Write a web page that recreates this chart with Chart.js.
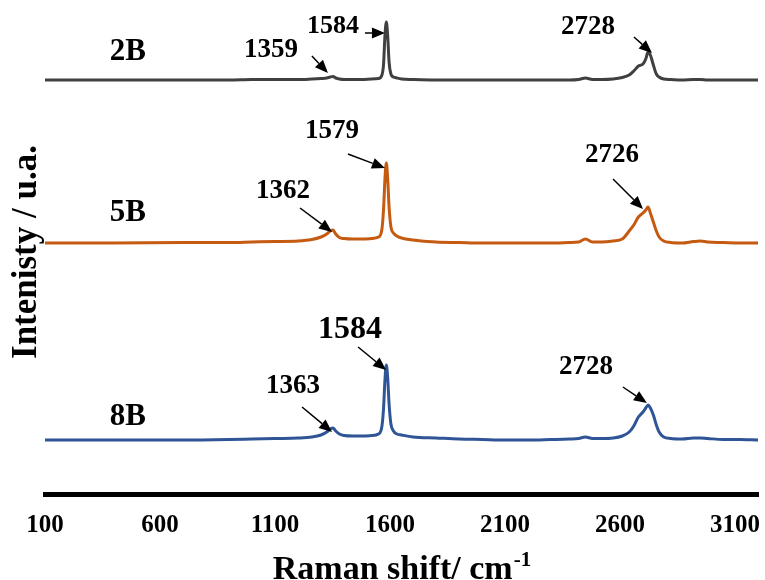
<!DOCTYPE html>
<html>
<head>
<meta charset="utf-8">
<script src="https://cdn.jsdelivr.net/npm/chart.js@4.4.0/dist/chart.umd.min.js"></script>
<style>
  html, body { margin: 0; padding: 0; background: #fff; }
  #wrap { width: 765px; height: 580px; }
</style>
</head>
<body>
<div id="wrap"><canvas id="raman"></canvas></div>
<script>
// Raman shift (cm-1) sample positions, shared by the three spectra
const shift = [
  100, 400, 700, 900, 1000, 1100, 1200,
  1260, 1300, 1325, 1340, 1352, 1364, 1380, 1400, 1440, 1480, 1520,
  1550, 1565, 1572, 1578, 1584, 1590, 1596, 1604, 1615, 1630, 1650,
  1700, 1800, 1900, 2000, 2100, 2200, 2300, 2380,
  2420, 2450, 2480, 2520, 2570,
  2610, 2640, 2660, 2680, 2700, 2712, 2722, 2732, 2745, 2758, 2770, 2790,
  2820, 2870, 2920, 2950, 2980, 3050, 3120, 3200
];

// intensities above each spectrum's own baseline (a.u.)
const int2B = [
  0, 0, 0, 0, 0.5, 0.5, 0.5,
  1, 1.5, 2, 3, 3.5, 2, 1, 0.5, 0.5, 0.5, 1,
  1.5, 5, 16, 44, 58, 44, 18, 6, 3, 2, 1,
  0.5, 0, 0, 0, 0, 0, 0, 0,
  0.5, 2, 0.5, 0.5, 1,
  2.5, 5, 9, 14, 16, 21, 28, 25, 15, 6, 3, 1,
  0.5, 0, 0.5, 0.5, 0, 0, 0, 0
];
const int5B = [
  0, 0, 0.5, 0.5, 1, 1.5, 2,
  3.5, 6, 9, 12, 13, 9, 5.5, 4.5, 4, 4, 4.5,
  6, 14, 34, 64, 80, 64, 36, 16, 10, 7, 5,
  3, 1, 0.5, 0, 0, 0, 0, 0.5,
  1, 4, 1, 1, 2,
  4, 12, 18, 26, 30, 33, 36, 30, 21, 12, 6, 2,
  0.5, 0, 1.5, 2, 1, 0.5, 0, 0
];
const int8B = [
  0, 0, 0, 0.5, 1, 1.5, 2,
  3, 5, 8, 11, 12, 9, 6, 4.5, 4, 4, 4.5,
  6, 14, 32, 60, 75, 62, 36, 16, 9, 6, 5,
  3, 2, 1, 0.5, 0, 0, 0.5, 1,
  1.5, 3, 1.5, 1.5, 2,
  4, 8, 14, 23, 28, 32, 35, 32, 25, 15, 8, 3,
  1.5, 1, 2, 2, 1.5, 0.5, 0.5, 0
];

const seriesNames = ['2B', '5B', '8B'];
const seriesData = [int2B, int5B, int8B];
const offsets = [414, 251, 54];          // vertical stacking of the spectra
const tickValues = [100, 600, 1100, 1600, 2100, 2600, 3100];

const colors = ['#404040', '#c55a11', '#2f5597'];
const serif = '"Liberation Serif", "Times New Roman", serif';

// peak call-outs: arrow tip in data units, tail / label as pixel offsets from the tip
const peakNotes = [
  { series: 0, text: '1359', at: [1330, 7],  tail: [-16, -17], label: [-57, -23], size: 27 },
  { series: 0, text: '1584', at: [1578, 47], tail: [-20, 0],   label: [-52, -7],  size: 26 },
  { series: 0, text: '2728', at: [2739, 27], tail: [-18, -16], label: [-64, -26], size: 27 },
  { series: 1, text: '1362', at: [1348, 11], tail: [-32, -24], label: [-49, -41], size: 27 },
  { series: 1, text: '1579', at: [1578, 75], tail: [-37, -14], label: [-53, -37], size: 27 },
  { series: 1, text: '2726', at: [2700, 34], tail: [-30, -30], label: [-31, -54], size: 27 },
  { series: 2, text: '1363', at: [1348, 8],  tail: [-30, -25], label: [-39, -46], size: 27 },
  { series: 2, text: '1584', at: [1583, 70], tail: [-28, -23], label: [-36, -40], size: 32 },
  { series: 2, text: '2728', at: [2717, 37], tail: [-24, -16], label: [-61, -36], size: 27 }
];
const nameLabelAt = [[460, 28], [460, 30], [460, 23]];

function drawArrow(ctx, x0, y0, x1, y1) {
  const ang = Math.atan2(y1 - y0, x1 - x0);
  const len = 13, half = 5.5;
  const bx = x1 - len * Math.cos(ang), by = y1 - len * Math.sin(ang);
  ctx.beginPath();
  ctx.moveTo(x0, y0);
  ctx.lineTo(bx, by);
  ctx.stroke();
  ctx.beginPath();
  ctx.moveTo(x1, y1);
  ctx.lineTo(bx + half * Math.sin(ang), by - half * Math.cos(ang));
  ctx.lineTo(bx - half * Math.sin(ang), by + half * Math.cos(ang));
  ctx.closePath();
  ctx.fill();
}

const annotate = {
  id: 'annotate',
  afterDraw(chart) {
    const { ctx, chartArea: area, scales: { x, y } } = chart;
    ctx.save();
    ctx.fillStyle = '#000';
    ctx.strokeStyle = '#000';
    ctx.lineWidth = 1.5;
    ctx.textAlign = 'center';
    ctx.textBaseline = 'middle';

    // series names
    ctx.font = 'bold 31px ' + serif;
    seriesNames.forEach((name, i) => {
      const [s, v] = nameLabelAt[i];
      ctx.fillText(name, x.getPixelForValue(s), y.getPixelForValue(offsets[i] + v));
    });

    // peak arrows and labels
    peakNotes.forEach(n => {
      const tx = x.getPixelForValue(n.at[0]);
      const ty = y.getPixelForValue(offsets[n.series] + n.at[1]);
      drawArrow(ctx, tx + n.tail[0], ty + n.tail[1], tx, ty);
      ctx.font = 'bold ' + n.size + 'px ' + serif;
      ctx.fillText(n.text, tx + n.label[0], ty + n.label[1]);
    });

    // x title with superscript (its bottom touches the canvas edge, as in the source)
    const main = 'Raman shift/ cm', sup = '-1';
    ctx.textAlign = 'left';
    ctx.textBaseline = 'alphabetic';
    ctx.font = 'bold 34px ' + serif;
    const w1 = ctx.measureText(main).width;
    ctx.font = 'bold 21px ' + serif;
    const w2 = ctx.measureText(sup).width;
    const x0 = (area.left + area.right) / 2 - (w1 + w2) / 2;
    const base = area.bottom + 85;
    ctx.font = 'bold 34px ' + serif;
    ctx.fillText(main, x0, base);
    ctx.font = 'bold 21px ' + serif;
    ctx.fillText(sup, x0 + w1 + 1, base - 13);

    // y title
    ctx.translate(36, (area.top + area.bottom) / 2);
    ctx.rotate(-Math.PI / 2);
    ctx.textAlign = 'center';
    ctx.font = 'bold 35px ' + serif;
    ctx.fillText('Intenisty / u.a.', 0, 0);
    ctx.restore();
  }
};

const ctx = document.getElementById('raman').getContext('2d');
new Chart(ctx, {
  type: 'line',
  data: {
    datasets: seriesNames.map((name, k) => ({
      label: name,
      data: shift.map((s, i) => ({ x: s, y: offsets[k] + seriesData[k][i] })),
      borderColor: colors[k],
      borderWidth: 3,
      pointRadius: 0,
      cubicInterpolationMode: 'monotone',
      fill: false
    }))
  },
  options: {
    responsive: true,
    maintainAspectRatio: false,
    animation: false,
    devicePixelRatio: 1,
    layout: { padding: { top: 10, left: 45, right: 7, bottom: 39 } },
    scales: {
      x: {
        type: 'linear',
        min: 100,
        max: 3200,
        afterBuildTicks: scale => { scale.ticks = tickValues.map(v => ({ value: v })); },
        // tick marks are not drawn, their length only spaces the labels from the axis
        grid: { display: false, drawTicks: true, tickLength: 17 },
        border: { display: true, color: '#000', width: 5 },
        ticks: {
          color: '#000',
          padding: 0,
          maxRotation: 0,
          autoSkip: false,
          callback: v => String(v),
          font: { family: serif, size: 25, weight: 'bold' }
        }
      },
      y: { display: false, min: 0, max: 484 }
    },
    plugins: {
      legend: { display: false },
      tooltip: { enabled: false }
    }
  },
  plugins: [annotate]
});
</script>
</body>
</html>
